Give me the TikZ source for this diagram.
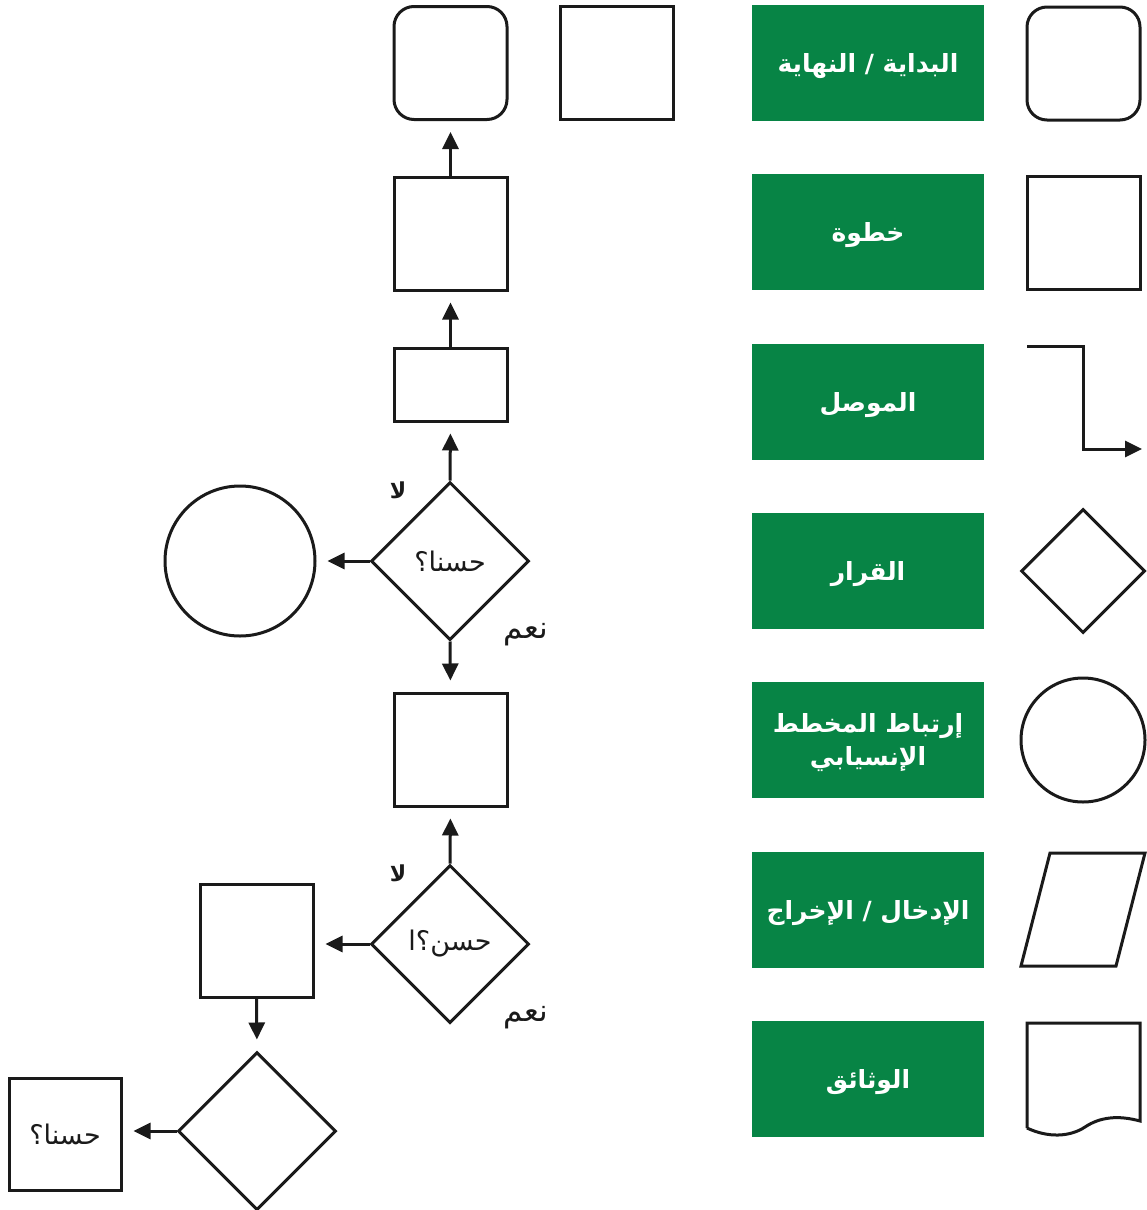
\documentclass[tikz,border=0pt]{standalone}
\usepackage{fontspec}
\usetikzlibrary{shapes.geometric,arrows.meta}
\TeXXeTstate=1
\newfontfamily\arabicfont[Script=Arabic]{DejaVu Sans}
\definecolor{legendgreen}{HTML}{078445}
\definecolor{ink}{HTML}{1A1A1A}
\tikzset{
  outline/.style={draw=ink, line width=3pt, fill=white},
  boxnode/.style={outline, rectangle, inner sep=0pt, minimum width=#1pt, minimum height=#1pt},
  rbox/.style={boxnode=#1, rounded corners=20pt},
  dnode/.style={outline, diamond, aspect=1, inner sep=0pt, minimum width=#1pt, minimum height=#1pt},
  cnode/.style={outline, circle, inner sep=0pt, minimum size=#1pt},
  greenbox/.style={fill=legendgreen, draw=none, minimum width=232pt, minimum height=116pt,
    inner sep=0pt},
  gtext/.style={text=white, font=\arabicfont\bfseries\fontsize{25}{33}\selectfont, align=center, inner sep=0pt},
  link/.style={draw=ink, line width=3pt, -{Triangle[length=17pt,width=16pt]}, shorten >=11pt},
  qtext/.style={font=\arabicfont\fontsize{27}{30}\selectfont, text=ink},
  answer/.style={font=\arabicfont\fontsize{31}{34}\selectfont, text=ink, inner sep=0pt},
  noanswer/.style={font=\arabicfont\bfseries\fontsize{22}{24}\selectfont, text=ink, inner sep=0pt}
}
\begin{document}
\begin{tikzpicture}[x=1pt,y=-1pt]
\useasboundingbox (0,0) rectangle (1147,1210);

% ---- legend: green label boxes ----
\node[greenbox] (g1) at (868,63)   {};
\node[greenbox] (g2) at (868,232)  {};
\node[greenbox] (g3) at (868,402)  {};
\node[greenbox] (g4) at (868,571)  {};
\node[greenbox] (g5) at (868,740)  {};
\node[greenbox] (g6) at (868,910)  {};
\node[greenbox] (g7) at (868,1079) {};
\node[gtext] (t1) at ([yshift=-3pt]g1.center) {\beginR البداية / النهاية\endR};
\node[gtext] (t2) at ([yshift=-3pt]g2.center) {\beginR خطوة\endR};
\node[gtext] (t3) at ([yshift=-3pt]g3.center) {\beginR الموصل\endR};
\node[gtext] (t4) at ([yshift=-3pt]g4.center) {\beginR القرار\endR};
\node[gtext] (t5) at ([yshift=-3pt]g5.center) {\beginR إرتباط المخطط\endR\\\beginR الإنسيابي\endR};
\node[gtext] (t6) at ([yshift=-3pt]g6.center) {\beginR الإدخال / الإخراج\endR};
\node[gtext] (t7) at ([yshift=-3pt]g7.center) {\beginR الوثائق\endR};

% ---- legend: symbols ----
\node[rbox=113] (s1) at (1083.5,63.5) {};
\node[boxnode=113] (s2) at (1083.5,232.5) {};
\coordinate (c3a) at (1027,346);
\coordinate (c3b) at (1083,346);
\coordinate (c3c) at (1083,449);
\coordinate (c3d) at (1142,449);
\draw[draw=ink, line width=3pt, -{Triangle[length=17pt,width=16pt]}] (c3a) -- (c3b) -- (c3c) -- (c3d);
\node[dnode=124] (s4) at (1083,571) {};
\node[cnode=124] (s5) at (1083,740) {};
\draw[outline, line join=miter] (1050,853) -- (1145,853) -- (1116,966) -- (1021,966) -- cycle;
\draw[outline] (1027,1128) -- (1027,1023) -- (1140,1023) -- (1140,1121)
  .. controls (1118,1115) and (1100,1117) .. (1085,1127)
  .. controls (1070,1137) and (1048,1138) .. (1027,1128);

% ---- flowchart ----
\node[rbox=113] (end) at (450.5,63) {};
\node[boxnode=113] (side) at (616.5,63) {};
\node[boxnode=113] (stepA) at (450.5,233.5) {};
\node[outline, rectangle, inner sep=0pt, minimum width=113pt, minimum height=73pt] (stepB) at (450.5,384.5) {};
\node[dnode=158, qtext] (dec1) at (450,561) {\beginR حسنا؟\endR};
\node[cnode=150] (link1) at (240,561) {};
\node[boxnode=113] (stepC) at (450.5,749.5) {};
\node[dnode=158, qtext] (dec2) at (450,944) {\beginR حسن؟ا\endR};
\node[boxnode=113] (stepD) at (256.5,941) {};
\node[dnode=158] (dec3) at (257,1131) {};
\node[boxnode=112, qtext] (stepE) at (65,1134) {\beginR حسنا؟\endR};

\draw[link] (stepA.north) -- (end.south);
\draw[link] (stepB.north) -- (stepA.south);
\draw[link] (dec1.north) -- (stepB.south);
\draw[link] (dec1.west) -- (link1.east);
\draw[link] (dec1.south) -- (stepC.north);
\draw[link] (dec2.north) -- (stepC.south);
\draw[link] (dec2.west) -- (dec2.west -| stepD.east);
\draw[link] (stepD.south) -- (dec3.north);
\draw[link] (dec3.west) -- (dec3.west -| stepE.east);

\node[noanswer] (no1) at (398,490) {\beginR لا\endR};
\node[answer] (yes1) at (526,635) {\beginR نعم\endR};
\node[noanswer] (no2) at (398,873) {\beginR لا\endR};
\node[answer] (yes2) at (526,1018) {\beginR نعم\endR};
\end{tikzpicture}
\end{document}
